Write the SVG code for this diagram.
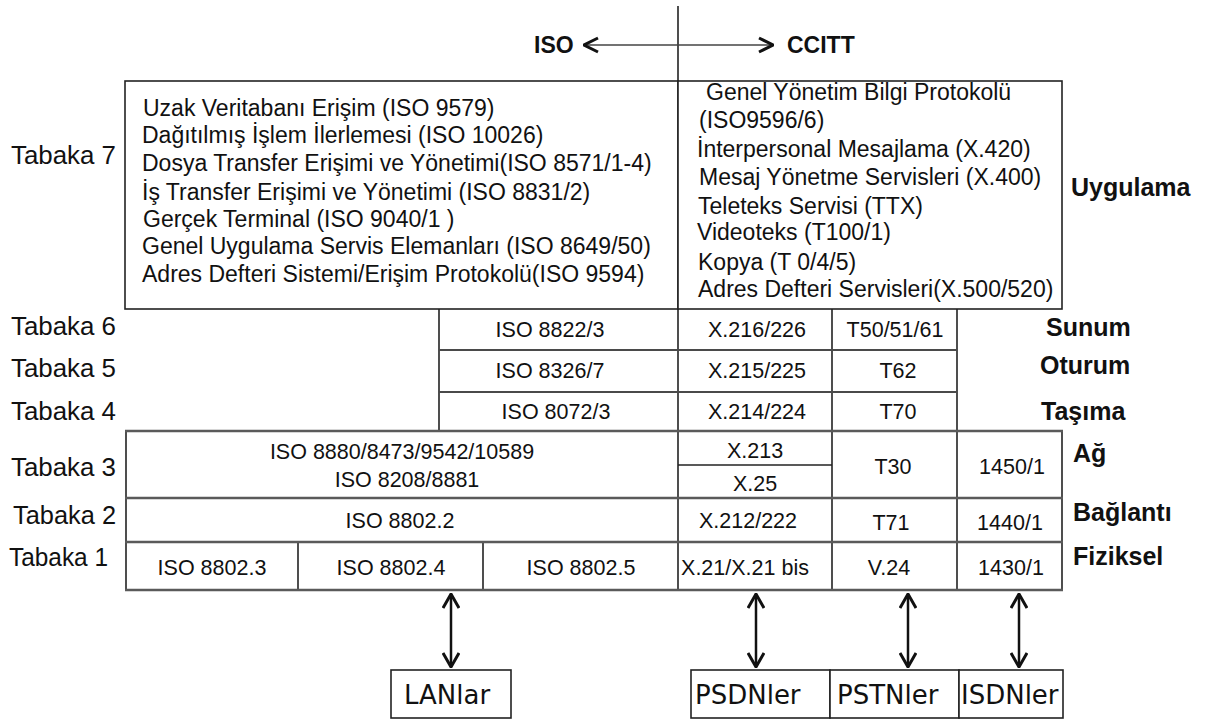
<svg xmlns="http://www.w3.org/2000/svg" width="1212" height="720" viewBox="0 0 1212 720">
<style>
  text { font-family: "Liberation Sans", Arial, sans-serif; fill: #111; }
  .lbl { font-size: 25px; }
  .hd { font-size: 25px; font-weight: bold; }
  .top { font-size: 23px; font-weight: bold; }
  .body { font-size: 23px; }
  .cell { font-size: 21.5px; text-anchor: middle; }
  .net { font-family: "DejaVu Sans", sans-serif; font-size: 26px; }
  .box { fill: #fff; stroke: #222; stroke-width: 1.6; }
  .thin { stroke: #222; stroke-width: 1.6; fill: none; }
  .gray { stroke: #5a5a5a; stroke-width: 2.6; fill: none; }
  .gray2 { stroke: #4a4a4a; stroke-width: 2; fill: none; }
  .arr { stroke: #111; stroke-width: 2.5; fill: none; marker-start: url(#head); marker-end: url(#head); }
  .tarr { stroke: #444; stroke-width: 1.6; fill: none; marker-start: url(#head2); marker-end: url(#head2); }
</style>
<defs>
  <marker id="head" markerUnits="userSpaceOnUse" viewBox="0 0 16 18" refX="15" refY="9" markerWidth="16" markerHeight="18" orient="auto-start-reverse">
    <path d="M1,1 L15,9 L1,17" fill="none" stroke="#111" stroke-width="3"/>
  </marker>
  <marker id="head2" markerUnits="userSpaceOnUse" viewBox="0 0 16 18" refX="15" refY="9" markerWidth="16" markerHeight="18" orient="auto-start-reverse">
    <path d="M1,2 L15,9 L1,16" fill="none" stroke="#111" stroke-width="3"/>
  </marker>
</defs>

<g id="header">
  <line class="thin" x1="678" y1="6" x2="678" y2="81"/>
  <line class="tarr" x1="584" y1="45" x2="773" y2="45"/>
  <text class="top" x="534" y="53">ISO</text>
  <text class="top" x="787" y="53">CCITT</text>
</g>

<g id="layer-labels">
  <text class="lbl" x="11" y="164" textLength="105" lengthAdjust="spacingAndGlyphs">Tabaka 7</text>
  <text class="lbl" x="11" y="335" textLength="105" lengthAdjust="spacingAndGlyphs">Tabaka 6</text>
  <text class="lbl" x="11" y="377" textLength="105" lengthAdjust="spacingAndGlyphs">Tabaka 5</text>
  <text class="lbl" x="11" y="420" textLength="105" lengthAdjust="spacingAndGlyphs">Tabaka 4</text>
  <text class="lbl" x="11" y="476" textLength="105" lengthAdjust="spacingAndGlyphs">Tabaka 3</text>
  <text class="lbl" x="13" y="524" textLength="103" lengthAdjust="spacingAndGlyphs">Tabaka 2</text>
  <text class="lbl" x="9" y="566" textLength="99" lengthAdjust="spacingAndGlyphs">Tabaka 1</text>
</g>

<g id="layer-names">
  <text class="hd" x="1071" y="196">Uygulama</text>
  <text class="hd" x="1046" y="336">Sunum</text>
  <text class="hd" x="1040" y="374">Oturum</text>
  <text class="hd" x="1041" y="420">Taşıma</text>
  <text class="hd" x="1073" y="462">Ağ</text>
  <text class="hd" x="1073" y="521">Bağlantı</text>
  <text class="hd" x="1073" y="565">Fiziksel</text>
</g>

<g id="iso-app">
  <rect class="box" x="125" y="81" width="553" height="228"/>
  <text class="body" x="143" y="116">Uzak Veritabanı Erişim (ISO 9579)</text>
  <text class="body" x="142" y="143">Dağıtılmış İşlem İlerlemesi (ISO 10026)</text>
  <text class="body" x="142" y="171">Dosya Transfer Erişimi ve Yönetimi(ISO 8571/1-4)</text>
  <text class="body" x="142" y="200">İş Transfer Erişimi ve Yönetimi (ISO 8831/2)</text>
  <text class="body" x="143" y="227">Gerçek Terminal (ISO 9040/1 )</text>
  <text class="body" x="142" y="254">Genel Uygulama Servis Elemanları (ISO 8649/50)</text>
  <text class="body" x="142" y="282">Adres Defteri Sistemi/Erişim Protokolü(ISO 9594)</text>
</g>

<g id="ccitt-app">
  <rect class="box" x="678" y="81" width="384" height="228"/>
  <text class="body" x="706" y="100">Genel Yönetim Bilgi Protokolü</text>
  <text class="body" x="699" y="128">(ISO9596/6)</text>
  <text class="body" x="697" y="157">İnterpersonal Mesajlama (X.420)</text>
  <text class="body" x="699" y="185">Mesaj Yönetme Servisleri (X.400)</text>
  <text class="body" x="698" y="214">Teleteks Servisi (TTX)</text>
  <text class="body" x="697" y="240">Videoteks (T100/1)</text>
  <text class="body" x="698" y="270">Kopya (T 0/4/5)</text>
  <text class="body" x="698" y="297">Adres Defteri Servisleri(X.500/520)</text>
</g>

<g id="upper-table">
  <line class="thin" x1="439" y1="309" x2="439" y2="431"/>
  <line class="thin" x1="678" y1="309" x2="678" y2="431"/>
  <line class="thin" x1="832" y1="309" x2="832" y2="431"/>
  <line class="thin" x1="957" y1="309" x2="957" y2="431"/>
  <line class="gray2" x1="439" y1="350" x2="957" y2="350"/>
  <line class="gray2" x1="439" y1="392" x2="957" y2="392"/>
  <text class="cell" x="550" y="337">ISO 8822/3</text>
  <text class="cell" x="757" y="337">X.216/226</text>
  <text class="cell" x="895" y="337">T50/51/61</text>
  <text class="cell" x="550" y="378">ISO 8326/7</text>
  <text class="cell" x="757" y="378">X.215/225</text>
  <text class="cell" x="898" y="378">T62</text>
  <text class="cell" x="556" y="419">ISO 8072/3</text>
  <text class="cell" x="757" y="419">X.214/224</text>
  <text class="cell" x="898" y="419">T70</text>
</g>

<g id="lower-table">
  <rect x="126" y="431" width="936" height="159" fill="#fff" stroke="none"/>
  <line class="thin" x1="126" y1="431" x2="126" y2="590"/>
  <line class="thin" x1="1062" y1="431" x2="1062" y2="590"/>
  <line class="thin" x1="678" y1="431" x2="678" y2="590"/>
  <line class="thin" x1="832" y1="431" x2="832" y2="590"/>
  <line class="thin" x1="957" y1="431" x2="957" y2="590"/>
  <line class="thin" x1="298" y1="542" x2="298" y2="590"/>
  <line class="thin" x1="483" y1="542" x2="483" y2="590"/>
  <line class="thin" x1="678" y1="465" x2="832" y2="465"/>
  <line class="gray" x1="125" y1="431" x2="1063" y2="431"/>
  <line class="gray" x1="125" y1="498" x2="1063" y2="498"/>
  <line class="gray" x1="125" y1="542" x2="1063" y2="542"/>
  <line class="gray" x1="125" y1="590" x2="1063" y2="590"/>
  <text class="cell" x="402" y="459">ISO 8880/8473/9542/10589</text>
  <text class="cell" x="407" y="487">ISO 8208/8881</text>
  <text class="cell" x="755" y="458">X.213</text>
  <text class="cell" x="755" y="491">X.25</text>
  <text class="cell" x="893" y="474">T30</text>
  <text class="cell" x="1012" y="474">1450/1</text>
  <text class="cell" x="400" y="528">ISO 8802.2</text>
  <text class="cell" x="748" y="528">X.212/222</text>
  <text class="cell" x="891" y="530">T71</text>
  <text class="cell" x="1010" y="530">1440/1</text>
  <text class="cell" x="212" y="575">ISO 8802.3</text>
  <text class="cell" x="391" y="575">ISO 8802.4</text>
  <text class="cell" x="581" y="575">ISO 8802.5</text>
  <text class="cell" x="745" y="575">X.21/X.21 bis</text>
  <text class="cell" x="889" y="575">V.24</text>
  <text class="cell" x="1011" y="575">1430/1</text>
</g>

<g id="connectors">
  <line class="arr" x1="451" y1="594" x2="451" y2="667"/>
  <line class="arr" x1="756" y1="594" x2="756" y2="667"/>
  <line class="arr" x1="908" y1="594" x2="908" y2="667"/>
  <line class="arr" x1="1019" y1="594" x2="1019" y2="667"/>
</g>

<g id="lanlar">
  <rect class="box" x="391" y="670" width="120" height="48"/>
  <text class="net" x="404" y="704">LANlar</text>
</g>
<g id="psdnler">
  <rect class="box" x="691" y="670" width="139" height="48"/>
  <text class="net" x="695" y="704">PSDNler</text>
</g>
<g id="pstnler">
  <rect class="box" x="830" y="670" width="129" height="48"/>
  <text class="net" x="837" y="704">PSTNler</text>
</g>
<g id="isdnler">
  <rect class="box" x="959" y="670" width="104" height="48"/>
  <text class="net" x="961" y="704">ISDNler</text>
</g>
</svg>
